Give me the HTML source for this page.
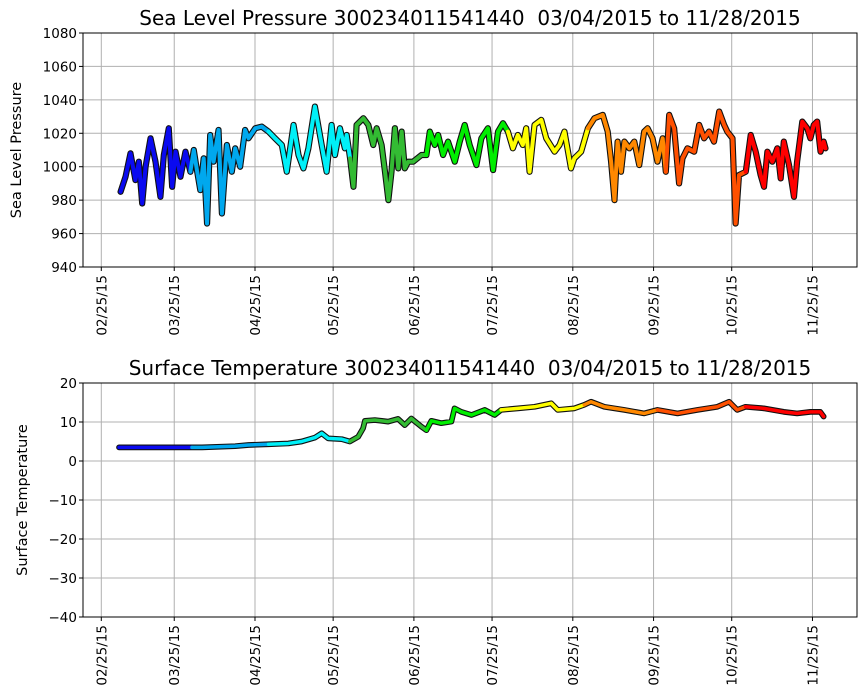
<!DOCTYPE html>
<html><head><meta charset="utf-8"><style>
html,body{margin:0;padding:0;background:#fff;}
svg{display:block;font-family:"DejaVu Sans","Liberation Sans",sans-serif;}
</style></head><body>
<svg id="chart" width="867" height="700" viewBox="0 0 867 700"></svg>
<script>
const tickDays=[0,28,59,89,120,150,181,212,242,273];
const tickLabels=["02/25/15","03/25/15","04/25/15","05/25/15","06/25/15","07/25/15","08/25/15","09/25/15","10/25/15","11/25/15"];
const colorBreaks=[35,64.5,96.5,125,157.5,188,218,248];
const segColors=["#0a0af0","#00a8ee","#00f0f8","#33bb33","#00ee00","#ffff00","#ff8800","#ff5000","#ff0000"];
const presDays=[7.4,9.3,11.2,13.1,14.4,15.7,17.0,18.9,20.8,22.7,24.0,25.9,27.2,28.5,30.4,32.3,34.2,35.5,36.7,38.0,39.3,40.6,41.8,43.1,45.0,46.3,48.2,50.1,51.4,53.3,55.2,56.5,59.1,61.6,64.2,66.7,69.3,71.2,73.8,75.7,77.6,79.5,82.0,84.6,86.5,88.4,89.7,91.6,93.5,94.2,95.5,96.8,98.0,100.6,102.5,104.4,105.7,107.6,108.9,110.2,111.4,112.7,114.0,115.3,116.5,117.8,119.7,122.9,124.8,126.1,128.0,129.3,131.2,133.1,135.7,137.6,139.5,141.4,144.0,145.9,148.4,150.4,152.3,154.2,156.1,158.0,159.9,161.8,163.1,164.4,166.3,168.9,170.8,174.0,175.9,177.8,180.3,181.6,184.2,186.8,189.3,192.5,194.4,195.7,197.0,198.2,199.5,200.8,202.7,204.6,206.5,208.4,209.7,211.6,213.5,215.5,216.7,218.0,219.9,221.8,223.1,225.0,227.6,229.5,231.4,233.3,235.2,237.2,239.1,240.3,242.3,243.5,244.8,247.4,249.3,251.2,253.1,254.4,255.7,257.6,259.5,260.8,262.0,264.0,265.9,267.1,269.1,271.0,272.2,273.5,274.8,276.1,277.3,278.0];
const presVals=[985,994,1008,992,1003,978,1000,1017,1003,982,1007,1023,988,1009,994,1009,997,1010,998,986,1005,966,1019,1003,1022,972,1013,997,1011,1000,1022,1017,1023,1024,1021,1017,1013,997,1025,1007,999,1011,1036,1013,997,1025,1007,1023,1011,1019,1005,988,1025,1029,1025,1013,1023,1013,997,980,997,1023,999,1021,999,1003,1003,1007,1007,1021,1013,1019,1007,1015,1003,1015,1025,1013,1001,1017,1023,998,1021,1026,1021,1011,1019,1013,1023,997,1025,1028,1017,1009,1013,1021,999,1005,1009,1023,1029,1031,1021,1003,980,1015,997,1015,1011,1015,1001,1021,1023,1017,1003,1017,997,1031,1023,990,1005,1011,1009,1025,1017,1021,1015,1033,1025,1021,1017,966,995,997,1019,1009,995,988,1009,1003,1011,993,1015,1001,982,1003,1027,1023,1017,1025,1027,1009,1015,1011];
const tempDays=[6.8,34.8,38.7,51.4,56.5,64.2,71.8,76.9,82.0,84.6,87.1,92.3,95.4,98.6,100.5,101.2,105.0,110.1,113.9,116.5,119.0,122.9,124.8,126.7,130.5,134.4,135.0,135.6,138.2,142.1,147.2,151.0,153.5,159.9,166.3,172.7,175.2,181.6,185.4,188.0,193.1,200.8,208.4,213.5,221.2,228.8,236.5,241.0,244.1,247.3,254.3,262.0,267.1,272.2,276.0,277.3];
const tempVals=[3.5,3.5,3.5,3.8,4.1,4.3,4.5,5.0,6.0,7.1,5.8,5.6,5.0,6.2,8.4,10.3,10.5,10.1,10.8,9.2,10.9,8.8,7.9,10.3,9.7,10.1,11.8,13.5,12.6,11.8,13.1,11.8,13.1,13.5,13.9,14.8,13.1,13.5,14.4,15.2,13.9,13.1,12.2,13.1,12.2,13.1,13.9,15.2,13.1,13.9,13.5,12.6,12.2,12.6,12.6,11.4];
const presTicks=[940,960,980,1000,1020,1040,1060,1080];
const tempTicks=[-40,-30,-20,-10,0,10,20];

const NS="http://www.w3.org/2000/svg";
const svg=document.getElementById('chart');
function mk(tag,attrs,parent){const e=document.createElementNS(NS,tag);for(const k in attrs)e.setAttribute(k,attrs[k]);(parent||svg).appendChild(e);return e;}
const L=83,R=857;
const xS=d=>101.3+d*2.605;
function colorOf(d){let i=0;while(i<colorBreaks.length&&d>=colorBreaks[i])i++;return i;}

function panel(cfg){
  const {top,bot,ymin,ymax,ticks,days,vals,title,ylabel,name,lw}=cfg;
  const yS=v=>bot-(v-ymin)/(ymax-ymin)*(bot-top);
  const g=mk('g',{});
  
  
  tickDays.forEach((d,i)=>{
    const x=xS(d);
    const gl=mk('line',{x1:x,x2:x,y1:top,y2:bot,stroke:'#b0b0b0','stroke-width':1},g);
    
    
    mk('line',{x1:x,x2:x,y1:bot,y2:bot+4,stroke:'#000','stroke-width':1},g);
    const t=mk('text',{x:0,y:0,transform:`translate(${x+5},${bot+8}) rotate(-90)`,'text-anchor':'end','font-size':13.5,fill:'#000'},g);
    t.textContent=tickLabels[i];
    
    
  });
  ticks.forEach(v=>{
    const y=yS(v);
    const gl=mk('line',{x1:L,x2:R,y1:y,y2:y,stroke:'#b0b0b0','stroke-width':1},g);
    
    
    mk('line',{x1:L-4,x2:L,y1:y,y2:y,stroke:'#000','stroke-width':1},g);
    const t=mk('text',{x:L-6,y:y+5,'text-anchor':'end','font-size':13.5,fill:'#000'},g);
    t.textContent=v<0?'\u2212'+(-v):String(v);
    
    
  });
  const pts=days.map((d,i)=>[xS(d),yS(vals[i])]);
  const outline=mk('polyline',{points:pts.map(p=>p.join(',')).join(' '),fill:'none',stroke:'#111','stroke-width':lw+2.2,'stroke-linejoin':'round','stroke-linecap':'round'},g);
  
  
  let segs=[];let cur=null;
  days.forEach((d,i)=>{
    const c=colorOf(d);
    if(!cur||cur.c!==c){const prev=cur?cur.pts[cur.pts.length-1]:null;cur={c,pts:prev?[prev]:[]};segs.push(cur);}
    cur.pts.push(pts[i]);
  });
  segs.forEach(s=>{
    const pl=mk('polyline',{points:s.pts.map(p=>p.join(',')).join(' '),fill:'none',stroke:segColors[s.c],'stroke-width':lw,'stroke-linejoin':'round','stroke-linecap':'round'},g);
    
    
  });
  const fr=mk('rect',{x:L,y:top,width:R-L,height:bot-top,fill:'none',stroke:'#000','stroke-width':1},g);
  
  
  const tt=mk('text',{x:(L+R)/2,y:top-8,'text-anchor':'middle','font-size':20,fill:'#000'},g);
  tt.textContent=title;
  
  
  const yl=mk('text',{x:0,y:0,transform:`translate(${cfg.ylx},${(top+bot)/2}) rotate(-90)`,'text-anchor':'middle','font-size':14.5,fill:'#000'},g);
  yl.textContent=ylabel;
  
  
}
panel({top:33,bot:267,ymin:940,ymax:1080,ticks:presTicks,days:presDays,vals:presVals,title:'Sea Level Pressure 300234011541440\u00a0\u00a003/04/2015 to 11/28/2015',ylabel:'Sea Level Pressure',name:'pressure',ylx:21,lw:4});
panel({top:383,bot:617,ymin:-40,ymax:20,ticks:tempTicks,days:tempDays,vals:tempVals,title:'Surface Temperature 300234011541440\u00a0\u00a003/04/2015 to 11/28/2015',ylabel:'Surface Temperature',name:'temperature',ylx:27,lw:3.5});
</script>
</body></html>
